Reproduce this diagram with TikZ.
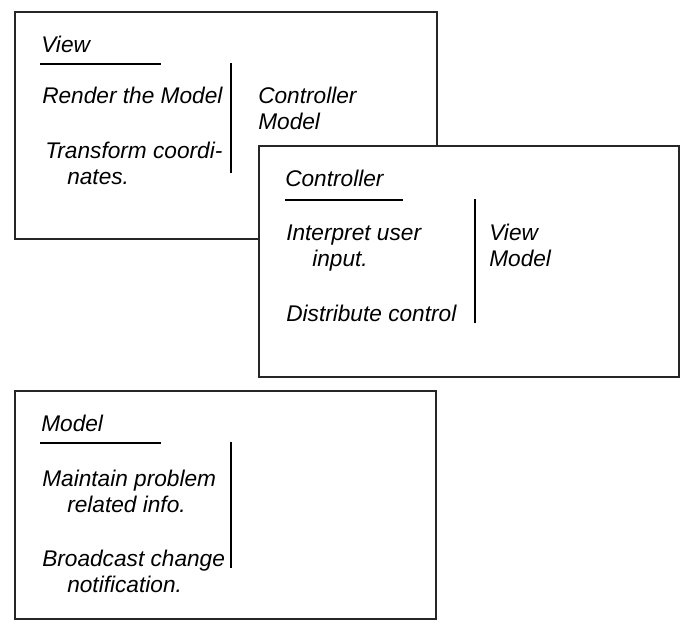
\documentclass[tikz,border=0pt]{standalone}
\usepackage{fontspec}
\setmainfont{Liberation Sans}
\usepackage{tikz}
\usetikzlibrary{positioning}
\tikzset{
    card/.style={rectangle, draw=black!85, fill=white, line width=1.3pt, anchor=north west},
    title/.style={font=\fontsize{17}{20}\selectfont\itshape, inner sep=0pt, anchor=base west},
    entry/.style={font=\fontsize{17}{20}\selectfont\itshape, inner sep=0pt, anchor=base west},
    rule/.style={line width=1pt},
}

\begin{document}
\begin{tikzpicture}[x=0.75pt, y=-0.75pt]

    \useasboundingbox (0,0) rectangle (699,637);

    % Cards
    \node[card, minimum width=316.5pt, minimum height=170.25pt] (view) at (14,11) {};
    \node[card, minimum width=315pt, minimum height=173.25pt] (controller) at (258,145) {};
    \node[card, minimum width=315.75pt, minimum height=171pt] (model) at (14,390) {};

    % View card
    \node[title] (viewname) at (41,52) {View};
    \node[entry] (render) at (42,103) {Render the Model};
    \node[entry] (transform) at (45,158) {Transform coordi-};
    \node[entry] (nates) at (67,184) {nates.};
    \node[entry] (vcollab1) at (258,103) {Controller};
    \node[entry] (vcollab2) at (258,129) {Model};
    \draw[rule] (40,64) -- (161,64);
    \draw[rule] (231,63) -- (231,173);

    % Controller card
    \node[title] (controllername) at (285,186) {Controller};
    \node[entry] (interpret) at (286,240) {Interpret user};
    \node[entry] (input) at (312,266) {input.};
    \node[entry] (distribute) at (286,321) {Distribute control};
    \node[entry] (ccollab1) at (489,240) {View};
    \node[entry] (ccollab2) at (489,266) {Model};
    \draw[rule] (285,200) -- (403,200);
    \draw[rule] (475,199) -- (475,323);

    % Model card
    \node[title] (modelname) at (41,431) {Model};
    \node[entry] (maintain) at (42,486) {Maintain problem};
    \node[entry] (related) at (67,512) {related info.};
    \node[entry] (broadcast) at (42,566) {Broadcast change};
    \node[entry] (notification) at (67,592) {notification.};
    \draw[rule] (40,443) -- (161,443);
    \draw[rule] (231,442) -- (231,568);

\end{tikzpicture}
\end{document}
